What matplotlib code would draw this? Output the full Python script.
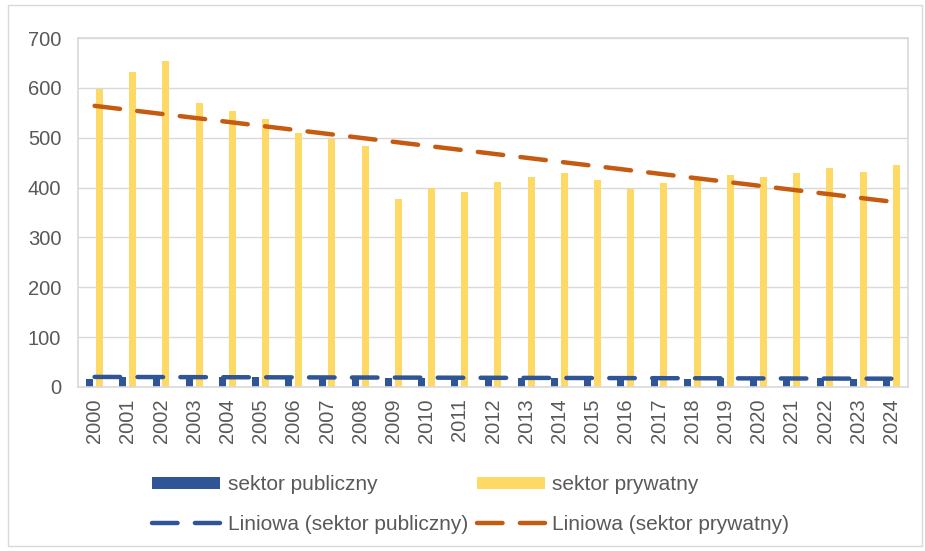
import numpy as np
import matplotlib
matplotlib.use("Agg")
import matplotlib.pyplot as plt
from matplotlib.patches import Rectangle

plt.rcParams.update({
    "font.family": ["Liberation Sans", "DejaVu Sans"],
    "font.size": 14.5,
    "text.color": "#595959",
    "axes.labelcolor": "#595959",
    "xtick.color": "#595959",
    "ytick.color": "#595959",
})

years = [str(y) for y in range(2000, 2025)]
public = [16, 20, 21, 22, 20, 21, 19, 20, 19, 18, 19, 18, 19,
          18, 19, 17, 18, 18, 17, 18, 17, 17, 18, 16, 16]
private = [598, 631, 653, 569, 554, 537, 509, 498, 484, 378, 400, 392, 412,
           422, 429, 415, 397, 409, 417, 425, 422, 429, 439, 431, 446]

BLUE = "#2F5597"
YELLOW = "#FFD966"
ORANGE = "#C55A11"
GRID = "#D9D9D9"

fig = plt.figure(figsize=(9.25, 5.51), dpi=100)
fig.patches.append(Rectangle((0.009, 0.009), 0.988, 0.982, transform=fig.transFigure,
                             fill=False, edgecolor=GRID, linewidth=1))
ax = fig.add_axes([78 / 925, 1 - 387 / 551, (908 - 78) / 925, (387 - 38) / 551])

x = np.arange(len(years))
w = 0.21
ax.bar(x - 0.15, public, width=w, color=BLUE, label="sektor publiczny", zorder=2)
ax.bar(x + 0.15, private, width=w, color=YELLOW, label="sektor prywatny", zorder=2)

# linear trend lines (Excel "Liniowa")
for vals, col, name in [(public, BLUE, "sektor publiczny"), (private, ORANGE, "sektor prywatny")]:
    k, b = np.polyfit(x, vals, 1)
    ax.plot(x, k * x + b, color=col, lw=3.2, dashes=(5.75, 3.9), dash_capstyle="round",
            label=f"Liniowa ({name})", zorder=3)

ax.set_xlim(-0.5, len(years) - 0.5)
ax.set_ylim(0, 700)
ax.set_yticks(range(0, 701, 100))
ax.set_xticks(x)
ax.set_xticklabels(years, rotation=90)
ax.tick_params(axis="y", length=0, pad=12)
ax.tick_params(axis="x", length=0, pad=8)
ax.yaxis.grid(True, color=GRID, lw=1)
ax.set_axisbelow(True)
for s in ax.spines.values():
    s.set_color(GRID)
    s.set_linewidth(1.2)

h, l = ax.get_legend_handles_labels()
order = [2, 0, 3, 1]
fig.legend([h[i] for i in order], [l[i] for i in order], loc="center",
           bbox_to_anchor=(0.509, 0.084), ncol=2, frameon=False, fontsize=15,
           handlelength=3.27, handleheight=0.5, columnspacing=0.45,
           handletextpad=0.34, labelspacing=1.0)

fig.savefig("out.png", dpi=100)
